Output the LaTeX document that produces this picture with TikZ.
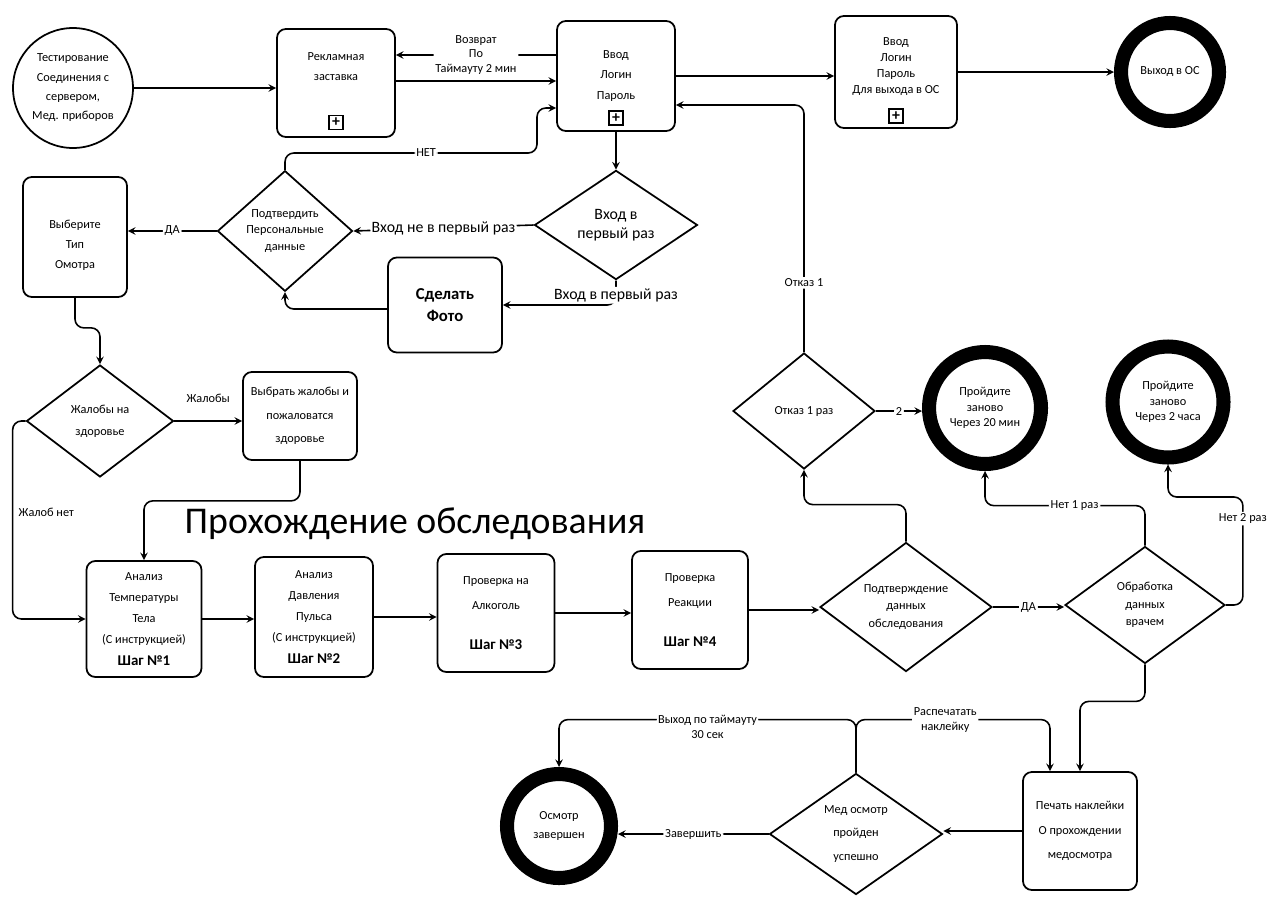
\documentclass[tikz,border=0pt]{standalone}
\usepackage{fontspec}
\setmainfont{Carlito}
\usetikzlibrary{shapes.geometric,positioning}

\begin{document}
\begin{tikzpicture}[
    x=0.02cm, y=-0.02cm,
    >=stealth,
    task/.style={draw, line width=1pt, rounded corners=5pt, align=center,
                 inner sep=2pt, font=\fontsize{7}{11.5}\selectfont},
    gate/.style={draw, diamond, line width=1pt, inner sep=0pt, align=center,
                 font=\fontsize{7}{9.5}\selectfont},
    startnode/.style={draw, circle, line width=1pt, align=center, inner sep=0pt,
                      font=\fontsize{7}{11}\selectfont},
    endstate/.style={draw, circle, line width=8pt, align=center, inner sep=0pt,
                     font=\fontsize{7}{8.8}\selectfont},
    plusbox/.style={draw, line width=0.8pt, minimum size=0.28cm, inner sep=0pt,
                    font=\bfseries\fontsize{9}{9}\selectfont},
    arr/.style={->, line width=0.9pt, rounded corners=5pt},
    lbl/.style={fill=white, inner sep=1pt, align=center,
                font=\fontsize{7}{8.5}\selectfont},
    biglbl/.style={fill=white, inner sep=1pt, font=\fontsize{9}{11}\selectfont}
  ]
  \useasboundingbox (0,0) rectangle (1277,897);

  % top row
  \node[startnode, minimum size=2.4cm] (test) at (73,88)
       {Тестирование\\Соединения с\\сервером,\\Мед. приборов};
  \node[task, minimum width=2.36cm, minimum height=2.16cm, text depth=0.65cm] (reklama) at (336,83)
       {Рекламная\\заставка};
  \node[plusbox, above=4.5pt of reklama.south] (reklamaplus) {+};
  \node[task, minimum width=2.36cm, minimum height=2.2cm] (vvod) at (616,76)
       {Ввод\\Логин\\Пароль};
  \node[plusbox, above=3.5pt of vvod.south] (vvodplus) {+};
  \node[task, minimum width=2.44cm, minimum height=2.24cm, text depth=0.25cm,
        font=\fontsize{7}{9}\selectfont] (vyvod) at (896,72)
       {Ввод\\Логин\\Пароль\\Для выхода в ОС};
  \node[plusbox, above=3pt of vyvod.south] (vyvodplus) {+};
  \node[endstate, minimum size=1.96cm] (exitos) at (1170,72) {Выход в ОС};

  % registration
  \node[task, minimum width=2.08cm, minimum height=2.4cm, text height=1.3cm] (tip) at (75,237)
       {Выберите\\Тип\\Омотра};
  \node[gate, minimum width=2.7cm, minimum height=2.32cm] (confirm) at (285,231)
       {Подтвердить\\Персональные\\данные};
  \node[gate, minimum width=3.26cm, minimum height=1.82cm,
        font=\fontsize{9}{11}\selectfont] (first) at (616,225)
       {Вход в\\первый раз};
  \node[task, minimum width=2.28cm, minimum height=1.9cm,
        font=\bfseries\fontsize{9.5}{13}\selectfont] (photo) at (445,305)
       {Сделать\\Фото};
  \node[gate, minimum width=2.94cm, minimum height=2.24cm,
        font=\fontsize{7}{12.5}\selectfont] (complaints) at (100,421)
       {Жалобы на\\здоровье};
  \node[task, minimum width=2.28cm, minimum height=1.76cm,
        font=\fontsize{7}{13.3}\selectfont] (choose) at (300,416)
       {Выбрать жалобы и\\пожаловатся\\здоровье};

  \node[font=\fontsize{21.5}{25}\selectfont] (title) at (415,524) {Прохождение обследования};

  % steps
  \node[task, minimum width=2.3cm, minimum height=2.32cm, font=\fontsize{7}{12}\selectfont] (step1) at (144,619)
       {Анализ\\Температуры\\Тела\\(С инструкцией)\\{\bfseries\fontsize{8.5}{10}\selectfont Шаг №1}};
  \node[task, minimum width=2.36cm, minimum height=2.4cm, font=\fontsize{7}{12}\selectfont] (step2) at (314,617)
       {Анализ\\Давления\\Пульса\\(С инструкцией)\\{\bfseries\fontsize{8.5}{10}\selectfont Шаг №2}};
  \node[task, minimum width=2.34cm, minimum height=2.36cm, font=\fontsize{7}{14.5}\selectfont] (step3) at (496,613)
       {Проверка на\\Алкоголь\\[2.8mm]{\bfseries\fontsize{8.5}{10}\selectfont Шаг №3}};
  \node[task, minimum width=2.32cm, minimum height=2.36cm, font=\fontsize{7}{14.5}\selectfont] (step4) at (690,610)
       {Проверка\\Реакции\\[2.8mm]{\bfseries\fontsize{8.5}{10}\selectfont Шаг №4}};
  \node[gate, minimum width=3.44cm, minimum height=2.4cm,
        font=\fontsize{7}{9.9}\selectfont] (check) at (906,607)
       {Подтверждение\\данных\\обследования};
  \node[gate, minimum width=3.2cm, minimum height=2.34cm,
        font=\fontsize{7}{9.9}\selectfont] (doctor) at (1145,605)
       {Обработка\\данных\\врачем};

  % refusals
  \node[gate, minimum width=2.84cm, minimum height=2.32cm] (refuse) at (804,411) {Отказ 1 раз};
  \node[endstate, minimum size=2.24cm] (retry20) at (985,408) {Пройдите\\заново\\Через 20 мин};
  \node[endstate, minimum size=2.22cm] (retry2h) at (1168,402) {Пройдите\\заново\\Через 2 часа};

  % finish
  \node[task, minimum width=2.28cm, minimum height=2.36cm,
        font=\fontsize{7}{13.8}\selectfont] (print) at (1080,831)
       {Печать наклейки\\О прохождении\\медосмотра};
  \node[gate, minimum width=3.46cm, minimum height=2.32cm,
        font=\fontsize{7}{13.5}\selectfont] (passed) at (856,834)
       {Мед осмотр\\пройден\\успешно};
  \node[endstate, minimum size=2.08cm, font=\fontsize{7}{10.5}\selectfont] (done) at (559,826)
       {Осмотр\\завершен};

  % connectors
  \draw[arr] (test.east) -- (test.east -| reklama.west);
  \draw[arr] ([yshift=0.42cm]vvod.west) -- node[lbl]{Возврат\\По\\Таймауту 2 мин}
             ([yshift=0.42cm]vvod.west -| reklama.east);
  \draw[arr] ([yshift=0.04cm]reklama.east) -- ([yshift=0.04cm]reklama.east -| vvod.west);
  \draw[arr] (vvod.east) -- (vvod.east -| vyvod.west);
  \draw[arr] (vyvod.east) -- (exitos.west);
  \draw[arr] (vvod.south) -- (first.north);
  \draw[arr] (first.west) -- node[biglbl]{Вход не в первый раз} (confirm.east);
  \draw[arr] (first.south) |- node[biglbl, pos=0.3]{Вход в первый раз} (photo.east);
  \draw[arr] ([yshift=-0.08cm]photo.west) -| (confirm.south);
  \draw[arr] (confirm.north) |- node[lbl, pos=0.78]{НЕТ} (537,153) |- ([yshift=-0.64cm]vvod.west);
  \draw[arr] (confirm.west) -- node[lbl]{ДА} (confirm.west -| tip.east);
  \draw[arr] (tip.south) -- ++(0,30) -| (complaints.north);
  \draw[arr] (complaints.east) -- node[lbl, above=9pt]{Жалобы} (complaints.east -| choose.west);
  \draw[arr] (complaints.west) -- ++(-13,0) |- node[lbl, pos=0.23, right=2pt]{Жалоб нет} (step1.west);
  \draw[arr] (choose.south) -- ++(0,40) -| (step1.north);
  \draw[arr] (step1.east) -- (step1.east -| step2.west);
  \draw[arr] (step2.east) -- (step2.east -| step3.west);
  \draw[arr] (step3.east) -- (step3.east -| step4.west);
  \draw[arr] (step4.east) -- (step4.east -| check.west);
  \draw[arr] (check.north) -- ++(0,-37) -| (refuse.south);
  \draw[arr] (check.east) -- node[lbl]{ДА} (check.east -| doctor.west);
  \draw[arr] (refuse.north) |- node[lbl, pos=0.14]{Отказ 1} ([yshift=-0.58cm]vvod.east);
  \draw[arr] (refuse.east) -- node[lbl]{2} (refuse.east -| retry20.west);
  \draw[arr] (doctor.north) -- ++(0,-40) -| node[lbl, pos=0.22]{Нет 1 раз} (retry20.south);
  \draw[arr] (doctor.east) -- ++(17,0) -- node[lbl, pos=0.8]{Нет 2 раз} ++(0,-108) -| (retry2h.south);
  \draw[arr] (doctor.south) -- ++(0,37) -| (print.north);
  \draw[arr] (passed.north) -- ++(0,-53) -| node[lbl, pos=0.23]{Распечатать\\наклейку}
             ([xshift=-0.6cm]print.north);
  \draw[arr] (passed.north) -- ++(0,-53) -| node[lbl, pos=0.25, yshift=-0.14cm]{Выход по таймауту\\30 сек}
             (done.north);
  \draw[arr] (print.west) -- (print.west -| passed.east);
  \draw[arr] (passed.west) -- node[lbl]{Завершить} (passed.west -| done.east);
\end{tikzpicture}
\end{document}
